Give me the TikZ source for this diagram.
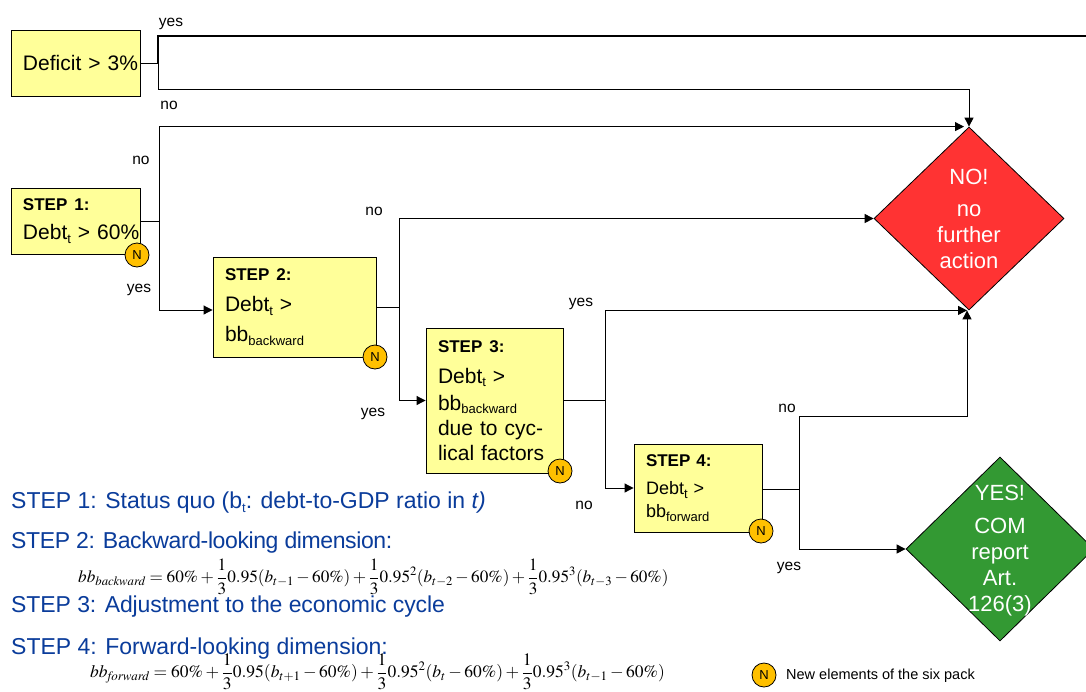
\documentclass[tikz,border=0pt]{standalone}
\usepackage{amsmath}
\usepackage{mathptmx}
\usepackage{fontspec}
\setmainfont{Liberation Sans}
\usepackage{tikz}
\usetikzlibrary{arrows.meta, shapes.geometric}
\definecolor{boxyellow}{RGB}{255,255,153}
\definecolor{circleorange}{RGB}{255,192,0}
\definecolor{stepblue}{RGB}{10,60,155}
\definecolor{noRed}{RGB}{255,51,51}
\definecolor{yesGreen}{RGB}{51,153,51}
\newcommand{\lowsub}[1]{\raisebox{-3.5pt}{\fontsize{13}{13}\selectfont #1}}
\newcommand{\steptitle}[1]{\textbf{\fontsize{17}{20}\selectfont #1}}
\tikzset{
  boxnode/.style={draw, line width=0.9pt, fill=boxyellow, inner sep=0pt, align=left, font=\fontsize{21}{25}\selectfont},
  ncircle/.style={draw, circle, fill=circleorange, line width=0.8pt, minimum size=24pt, inner sep=0pt, font=\fontsize{13}{15}\selectfont},
  decision/.style={draw, diamond, inner sep=0pt, line width=0.8pt},
  decisiontext/.style={text=white, align=center, font=\fontsize{22}{26}\selectfont},
  lbl/.style={font=\fontsize{15.5}{18}\selectfont},
  steptext/.style={anchor=west, inner sep=0pt, text=stepblue, font=\fontsize{23}{27}\selectfont},
  formula/.style={anchor=west, inner sep=0pt},
  line/.style={line width=1pt},
  arr/.style={line width=1pt, -{Triangle[length=9pt, width=9pt]}},
}
\begin{document}
\begin{tikzpicture}[x=1pt, y=-1pt]

\clip (0, 0) rectangle (1086, 691);
\fill [white] (0, 0) rectangle (1086, 691);

\node [boxnode, minimum width=129pt, minimum height=66pt, text width=105pt] (deficit) at (75.5, 63) {\mbox{Deficit > 3\%}};
\node [boxnode, minimum width=129pt, minimum height=66pt, text width=105pt] (step1) at (75.5, 221) {\steptitle{STEP 1:}\\[4pt]\mbox{Debt\lowsub{t} > 60\%}};
\node [boxnode, minimum width=163pt, minimum height=100pt, text width=139pt] (step2) at (294.5, 307) {\steptitle{STEP 2:}\\[6pt]Debt\lowsub{t} >\\[5pt]bb\lowsub{backward}};
\node [boxnode, minimum width=137pt, minimum height=145pt, text width=113pt] (step3) at (494.5, 400.5) {\steptitle{STEP 3:}\\[6pt]Debt\lowsub{t} >\\[2pt]bb\lowsub{backward}\\[0pt]due to cyc-\\lical factors};
\node [boxnode, minimum width=128pt, minimum height=88pt, text width=104pt, font=\fontsize{18}{23}\selectfont] (step4) at (698, 488) {\steptitle{STEP 4:}\\[5pt]Debt\lowsub{t} >\\[0pt]bb\lowsub{forward}};

\node [decision, fill=noRed, minimum width=190pt, minimum height=183pt] (nodiam) at (969, 218.5) {};
\node [decision, fill=yesGreen, minimum width=188pt, minimum height=184pt] (yesdiam) at (1000, 549) {};
\node [decisiontext] (notext) at (969, 219) {NO!\\[6pt]no\\further\\action};
\node [decisiontext] (yestext) at (1000, 551) {YES!\\[7pt]COM\\report\\Art.\\126(3)};

\coordinate (j0) at (158, 63);
\coordinate (j1) at (159, 221);
\coordinate (j2) at (399, 307);
\coordinate (j3) at (605, 400);
\coordinate (j4) at (799, 489);
\coordinate (yesend) at (1086, 36);
\coordinate (bend0) at (158, 89);
\coordinate (bend1) at (799, 416);

\draw [line] (deficit) -- (j0);
\draw [line width=1.4pt] (j0) |- (yesend);
\draw [arr] (j0) -- (bend0) -| (nodiam.north);
\draw [line] (step1.east |- j1) -- (j1);
\draw [arr] (j1) |- ([xshift=-5pt]nodiam.north);
\draw [arr] (j1) |- ([yshift=-3pt]step2.west);
\draw [line] (step2) -- (j2);
\draw [arr] (j2) |- (nodiam.west);
\draw [arr] (j2) |- (step3.west);
\draw [line] (step3.east |- j3) -- (j3);
\draw [arr] (j3) |- ([xshift=-2pt]nodiam.south);
\draw [arr] (j3) |- (step4.west);
\draw [line] (step4.east |- j4) -- (j4);
\draw [line] (j4) -- (bend1);
\draw [arr] (bend1) -| ([xshift=-2pt]nodiam.south);
\draw [arr] (j4) |- (yesdiam.west);

\node [ncircle] (n1) at (137, 255) {N};
\node [ncircle] (n2) at (375, 357) {N};
\node [ncircle] (n3) at (560, 471) {N};
\node [ncircle] (n4) at (761, 531) {N};
\node [ncircle] (nlegend) at (764, 675) {N};
\node [anchor=west, inner sep=0pt, font=\fontsize{14.5}{17}\selectfont] (legendtext) at (786, 676) {New elements of the six pack};

\node [lbl] (lyes0) at (171, 24) {yes};
\node [lbl] (lno0) at (169, 105) {no};
\node [lbl] (lno1) at (141, 160) {no};
\node [lbl] (lyes1) at (139, 290) {yes};
\node [lbl] (lno2) at (374, 211) {no};
\node [lbl] (lyes2) at (373, 414) {yes};
\node [lbl] (lyes3) at (581, 304) {yes};
\node [lbl] (lno3) at (584, 505) {no};
\node [lbl] (lno4) at (787, 408) {no};
\node [lbl] (lyes4) at (789, 568) {yes};

\node [steptext] (s1) at (11, 503) {STEP 1: Status quo (b\lowsub{t}: debt-to-GDP ratio in \textit{t)}};
\node [steptext] (s2) at (11, 543) {\addfontfeature{LetterSpace=-1.7}STEP 2: Backward-looking dimension:};
\node [steptext] (s3) at (11, 607) {\addfontfeature{LetterSpace=-0.4}STEP 3: Adjustment to the economic cycle};
\node [steptext] (s4) at (11, 649) {STEP 4: Forward-looking dimension:};

\node [formula, font=\fontsize{17.2}{20}\selectfont] (f1) at (78, 577) {$\displaystyle bb_{\mathit{backward}} = 60\% + \frac{1}{3}0.95(b_{t-1} - 60\%) + \frac{1}{3}0.95^{2}(b_{t-2} - 60\%) + \frac{1}{3}0.95^{3}(b_{t-3} - 60\%)$};
\node [formula, font=\fontsize{17.5}{20}\selectfont] (f2) at (90, 672) {$\displaystyle bb_{\mathit{forward}} = 60\% + \frac{1}{3}0.95(b_{t+1} - 60\%) + \frac{1}{3}0.95^{2}(b_{t} - 60\%) + \frac{1}{3}0.95^{3}(b_{t-1} - 60\%)$};

\end{tikzpicture}
\end{document}
